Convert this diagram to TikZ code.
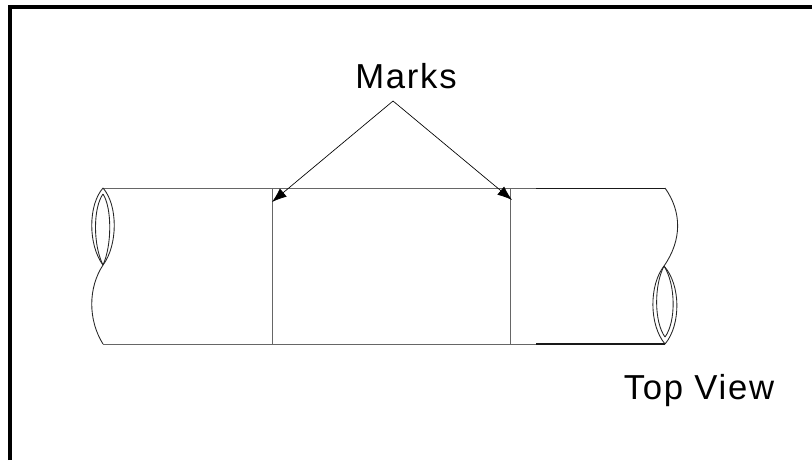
\documentclass[tikz,border=0pt]{standalone}
\usepackage{fontspec}
\setmainfont{Liberation Sans}
\usetikzlibrary{arrows.meta}
\tikzstyle{frameline} = [draw=black, line width=3pt]
\tikzstyle{pipeline} = [draw=black!60, line width=0.7pt]
\tikzstyle{darkline} = [draw=black!90, line width=0.7pt]
\tikzstyle{curveline} = [draw=black!85, line width=0.65pt]
\tikzstyle{markarrow} = [draw=black, line width=0.5pt, -{Latex[length=11pt,width=8pt]}]
\tikzstyle{mylabel} = [inner sep=0pt, anchor=base, font=\fontsize{26}{28}\selectfont\addfontfeature{LetterSpace=5}]

\begin{document}
\begin{tikzpicture}[x=1pt, y=-1pt, xscale=0.75, yscale=0.75]
    \useasboundingbox (0,0) rectangle (812,460);
    % frame
    \draw [frameline] (10,460) -- (10,7) -- (812,7);
    \coordinate (tl) at (103,188);
    \coordinate (bl) at (103,344);
    \coordinate (tr) at (665,188);
    \coordinate (br) at (665,344);
    \coordinate (ml) at (103,265);
    \coordinate (mr) at (664,266);
    \coordinate (ma) at (272,188);
    \coordinate (mb) at (272,344);
    \coordinate (mc) at (510,188);
    \coordinate (md) at (510,344);
    \coordinate (me) at (536,188);
    \coordinate (mf) at (536,344);
    % pipe
    \draw [pipeline] (tl) -- (me);
    \draw [darkline] (me) -- (tr);
    \draw [pipeline] (bl) -- (mf);
    \draw [darkline, line width=1pt] (mf) -- (br);
    \draw [pipeline] (ma) -- (mb);
    \draw [pipeline] (mc) -- (md);
    % left end
    \draw [curveline] (tl) .. controls (88,205) and (88,245) .. (ml);
    \draw [curveline] (tl) .. controls (118,205) and (118,245) .. (ml);
    \draw [curveline] (103,194) .. controls (93,208) and (93,245) .. (ml);
    \draw [curveline] (103,194) .. controls (112,208) and (112,245) .. (ml);
    \draw [curveline] (ml) .. controls (88,288) and (88,320) .. (bl);
    % right end
    \draw [curveline] (tr) .. controls (682,212) and (682,240) .. (mr);
    \draw [curveline] (mr) .. controls (649,285) and (649,325) .. (br);
    \draw [curveline] (mr) .. controls (681,285) and (681,325) .. (br);
    \draw [curveline] (mr) .. controls (654,285) and (654,322) .. (665,337);
    \draw [curveline] (665,337) .. controls (676,322) and (676,285) .. (mr);
    % label and arrows
    \node [mylabel] (marks) at (406,88) {Marks};
    \coordinate (apex) at (393,101);
    \draw [markarrow] (apex) -- (272,202);
    \draw [markarrow] (apex) -- (512,200);
    \node [mylabel] (topview) at (699,399) {Top View};
\end{tikzpicture}
\end{document}
